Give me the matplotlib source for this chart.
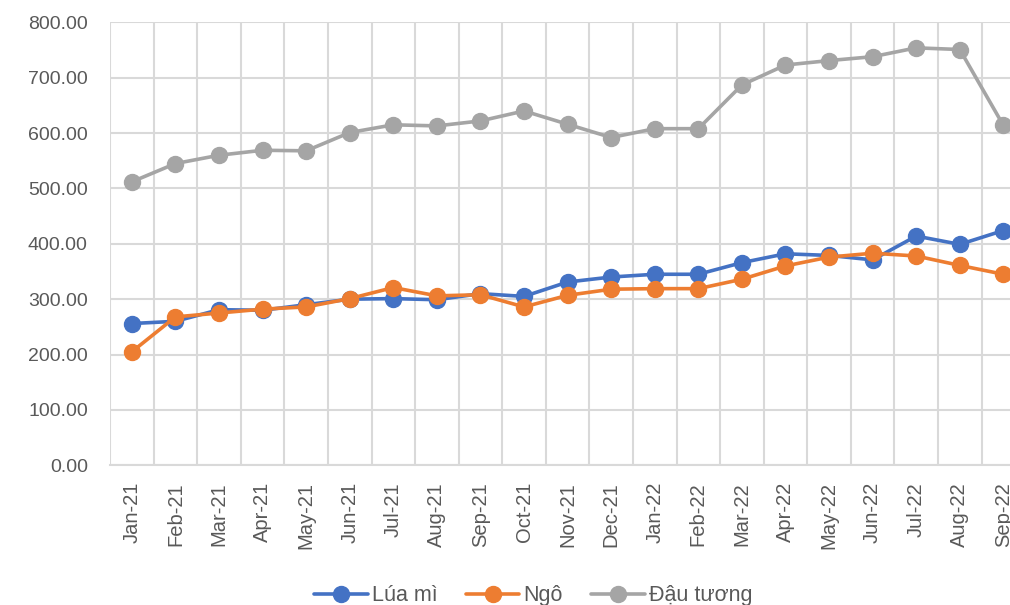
import numpy as np
import matplotlib.pyplot as plt

# monthly prices
months = ["Jan-21", "Feb-21", "Mar-21", "Apr-21", "May-21", "Jun-21", "Jul-21",
          "Aug-21", "Sep-21", "Oct-21", "Nov-21", "Dec-21", "Jan-22", "Feb-22",
          "Mar-22", "Apr-22", "May-22", "Jun-22", "Jul-22", "Aug-22", "Sep-22"]
lua_mi = [256, 260, 281, 280, 290, 300, 301, 299, 310, 305, 331, 340, 345, 345,
          366, 382, 379, 371, 414, 399, 424]
ngo = [205, 268, 275, 282, 286, 301, 321, 306, 308, 286, 307, 318, 319, 319,
       336, 360, 376, 383, 378, 361, 345]
dau_tuong = [512, 545, 560, 569, 568, 601, 615, 613, 622, 640, 616, 592, 608, 608,
             687, 723, 731, 738, 754, 751, 614]

series = [("Lúa mì", lua_mi, "#4472C4"),
          ("Ngô", ngo, "#ED7D31"),
          ("Đậu tương", dau_tuong, "#A5A5A5")]

txt = "#595959"
grid = "#D9D9D9"

fig = plt.figure(figsize=(10.1, 6.05), dpi=100)
ax = fig.add_axes([0.109, 0.231, 0.906, 0.732])

x = np.arange(len(months))
for name, vals, col in series:
    ax.plot(x, vals, color=col, lw=2.6, marker="o", ms=11.5,
            label=name, solid_capstyle="round", zorder=3)

ax.set_xlim(-0.5, len(months) - 0.5)
ax.set_ylim(0, 800)
ax.set_yticks(np.arange(0, 801, 100))
ax.set_yticklabels([f"{v:.2f}" for v in range(0, 801, 100)])
ax.set_xticks(x)
ax.set_xticklabels(months, rotation=90, fontsize=14.5, color=txt,
                   family="Liberation Sans")
ax.set_xticks(np.arange(-0.5, len(months), 1), minor=True)

ax.tick_params(axis="y", length=0, pad=16, labelsize=14, labelcolor=txt)
ax.tick_params(axis="x", which="major", length=0, pad=12)
ax.tick_params(axis="x", which="minor", length=0)
for lab in ax.get_yticklabels():
    lab.set_family("Liberation Sans")

ax.grid(axis="y", color=grid, lw=1.5)
ax.grid(axis="x", which="minor", color=grid, lw=1.5)
ax.set_axisbelow(True)
for s in ["top", "right", "left"]:
    ax.spines[s].set_visible(False)
ax.spines["bottom"].set_color(grid)
ax.spines["bottom"].set_linewidth(1.5)

fig.legend(loc="center", bbox_to_anchor=(0.528, 0.015), ncol=3, frameon=False,
           handlelength=2.5, columnspacing=1.3, handletextpad=0.2,
           prop={"family": "Liberation Sans", "size": 15.5}, labelcolor=txt)

fig.savefig("out.png", dpi=100)
